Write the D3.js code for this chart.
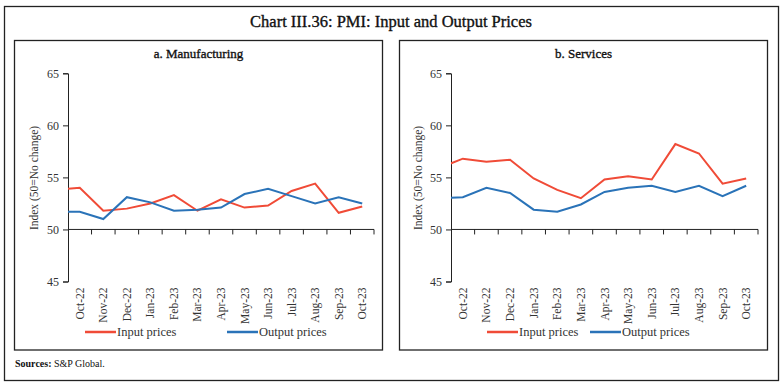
<!DOCTYPE html>
<meta charset="utf-8">
<style>
  body { margin: 0; background: #fff; }
  text { font-family: "Liberation Serif", "DejaVu Serif", serif; }
</style>
<svg width="783" height="384"></svg>
<script src="https://d3js.org/d3.v7.min.js"></script>
<script>
// categories; the first one (Sep-22) is only there so the line runs in from the axis
var months = ['Sep-22', 'Oct-22', 'Nov-22', 'Dec-22', 'Jan-23', 'Feb-23', 'Mar-23', 'Apr-23',
  'May-23', 'Jun-23', 'Jul-23', 'Aug-23', 'Sep-23', 'Oct-23'];
var shownMonths = months.slice(1);

var mfgInput  = [53.8, 54.0, 51.8, 52.0, 52.5, 53.3, 51.8, 52.9, 52.1, 52.3, 53.7, 54.4, 51.6, 52.2];
var mfgOutput = [51.7, 51.7, 51.0, 53.1, 52.6, 51.8, 51.9, 52.1, 53.4, 53.9, 53.2, 52.5, 53.1, 52.5];
var svcInput  = [55.9, 56.8, 56.5, 56.7, 54.9, 53.8, 53.0, 54.8, 55.1, 54.8, 58.2, 57.3, 54.4, 54.9];
var svcOutput = [53.0, 53.1, 54.0, 53.5, 51.9, 51.7, 52.4, 53.6, 54.0, 54.2, 53.6, 54.2, 53.2, 54.2];

var yTicks = [45, 50, 55, 60, 65];
var red = '#f04b37', blue = '#2a73b8';

var svg = d3.select('svg');

// frame + title
svg.append('rect').attr('x', 4.5).attr('y', 6.5).attr('width', 774).attr('height', 374)
  .attr('fill', 'none').attr('stroke', '#222').attr('stroke-width', 1.3);
svg.append('text').attr('x', 391).attr('y', 27).attr('text-anchor', 'middle')
  .attr('font-size', 16.5).attr('fill', '#111').attr('stroke', '#111').attr('stroke-width', 0.35)
  .text('Chart III.36: PMI: Input and Output Prices');

svg.append('text').attr('x', 15).attr('y', 367).attr('font-size', 10).attr('fill', '#111')
  .call(t => {
    t.append('tspan').attr('font-weight', 'bold').text('Sources:');
    t.append('tspan').text(' S&P Global.');
  });

function drawPanel(o) {
  var g = svg.append('g');
  g.append('rect').attr('x', o.bx).attr('y', 40.5).attr('width', o.bw).attr('height', 309.5)
    .attr('fill', 'none').attr('stroke', '#222').attr('stroke-width', 1.3);
  g.append('text').attr('x', o.bx + o.bw / 2).attr('y', 58).attr('text-anchor', 'middle')
    .attr('font-size', 13).attr('fill', '#111').attr('stroke', '#111').attr('stroke-width', 0.35)
    .text(o.title);

  var step = (o.x1 - o.x0) / shownMonths.length;
  var x = d3.scaleBand().domain(months).range([o.x0 - step, o.x1]);
  var y = d3.scaleLinear().domain([45, 65]).range([281.5, 73.3]);
  var cx = d => x(d) + x.bandwidth() / 2;

  // y axis
  var ya = g.append('g').attr('transform', `translate(${o.x0},0)`)
    .call(d3.axisLeft(y).tickValues(yTicks).tickSize(5).tickPadding(4));
  ya.select('.domain').attr('stroke', '#222');
  ya.selectAll('line').attr('stroke', '#222');
  ya.selectAll('text').attr('font-size', 12).attr('fill', '#333')
    .style('font-family', '"Liberation Serif", serif');

  // x axis sitting on 50, ticks at band edges
  var xa = g.append('g').attr('transform', `translate(0,${y(50)})`);
  xa.append('line').attr('x1', o.x0).attr('x2', o.x1).attr('stroke', '#222');
  xa.selectAll('.tk').data(shownMonths).enter().append('line')
    .attr('x1', d => x(d) + x.bandwidth()).attr('x2', d => x(d) + x.bandwidth())
    .attr('y1', 0).attr('y2', 5).attr('stroke', '#222');

  g.selectAll('.xl').data(shownMonths).enter().append('text')
    .attr('transform', d => `translate(${cx(d) + 4},${y(45) + 6}) rotate(-90)`)
    .attr('text-anchor', 'end').attr('font-size', 11.5).attr('fill', '#333')
    .text(d => d);

  g.append('text')
    .attr('transform', `translate(${o.tx},178) rotate(-90)`)
    .attr('text-anchor', 'middle').attr('font-size', 11.5).attr('fill', '#333')
    .text('Index (50=No change)');

  var clipId = 'clip' + o.bx;
  svg.append('clipPath').attr('id', clipId).append('rect')
    .attr('x', o.x0).attr('y', 60).attr('width', o.x1 - o.x0).attr('height', 240);

  var line = d3.line().x((d, i) => cx(months[i])).y(d => y(d));
  var lines = g.append('g').attr('clip-path', `url(#${clipId})`);
  [[o.input, red], [o.output, blue]].forEach(s => {
    lines.append('path').datum(s[0]).attr('d', line)
      .attr('fill', 'none').attr('stroke', s[1]).attr('stroke-width', 2);
  });

  // legend
  var lg = g.append('g');
  [['Input prices', red, o.l1], ['Output prices', blue, o.l2]].forEach(l => {
    lg.append('line').attr('x1', l[2]).attr('x2', l[2] + 31).attr('y1', 332).attr('y2', 332)
      .attr('stroke', l[1]).attr('stroke-width', 2.5);
    lg.append('text').attr('x', l[2] + 32).attr('y', 336).attr('font-size', 12.5)
      .attr('fill', '#333').text(l[0]);
  });
}

drawPanel({ title: 'a. Manufacturing', bx: 14.5, bw: 368, x0: 68, x1: 374, tx: 38,
  input: mfgInput, output: mfgOutput, l1: 85, l2: 227 });
drawPanel({ title: 'b. Services', bx: 399.5, bw: 368, x0: 451, x1: 758, tx: 422,
  input: svcInput, output: svcOutput, l1: 487, l2: 590 });
</script>
